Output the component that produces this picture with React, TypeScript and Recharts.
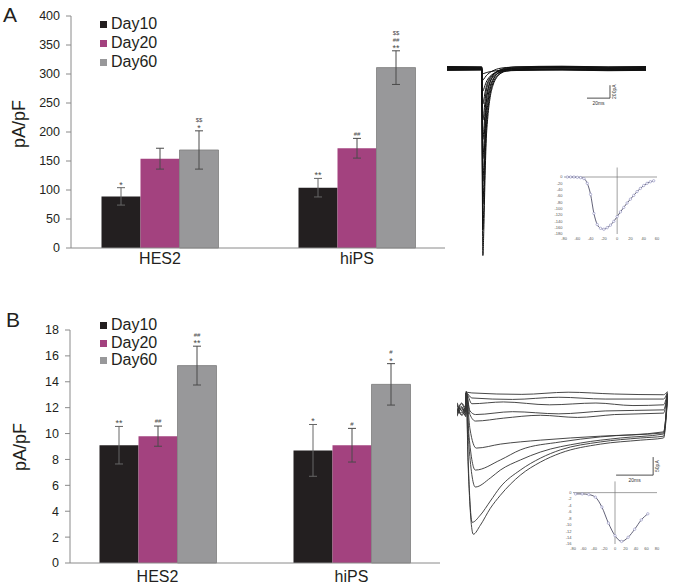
import React from 'react';
import {
  BarChart, Bar, XAxis, YAxis, ErrorBar, LabelList, Legend,
  LineChart, Line, ReferenceLine,
} from 'recharts';

const groups = ['HES2', 'hiPS'];
const colors = { Day10: '#231F20', Day20: '#A3427F', Day60: '#98989A' };
const inkColor = '#231F20';

// panel A: Na current density (pA/pF)
const aDay10 = [89, 104];
const aDay20 = [154, 172];
const aDay60 = [169, 311];
const aErr10 = [15, 16];
const aErr20 = [18, 17];
const aErr60 = [33, 29];
const aSig10 = ['*', '**'];
const aSig20 = ['', '##'];
const aSig60 = ['*|$$', '**|##|$$'];
const aTicks = [0, 50, 100, 150, 200, 250, 300, 350, 400];

// panel B: Ca current density (pA/pF)
const bDay10 = [9.1, 8.7];
const bDay20 = [9.8, 9.1];
const bDay60 = [15.25, 13.8];
const bErr10 = [1.45, 2.0];
const bErr20 = [0.78, 1.3];
const bErr60 = [1.5, 1.6];
const bSig10 = ['**', '*'];
const bSig20 = ['##', '#'];
const bSig60 = ['**|##', '*|#'];
const bTicks = [0, 2, 4, 6, 8, 10, 12, 14, 16, 18];

// panel A raw traces: [ms, pA]
const tA1 = [[0, 20], [30.2, 15], [30.6, -1450], [31.2, -2900], [32, -2500], [33, -1740], [34, -1160], [35.5, -750], [37.5, -450], [40, -260], [43, -145], [47, -72], [52, -20], [60, 5], [100, 25], [140, 10], [173, 20]];
const tA2 = [[0, -20], [30.2, -15], [30.6, -1250], [31.2, -2500], [32, -2150], [33, -1500], [34, -1000], [35.5, -650], [37.5, -390], [40, -225], [43, -125], [47, -70], [52, -40], [60, -25], [100, -15], [140, -25], [173, -20]];
const tA3 = [[0, 10], [30.2, 5], [30.6, -1050], [31.2, -2100], [32, -1800], [33, -1260], [34, -840], [35.5, -545], [37.5, -325], [40, -185], [43, -95], [47, -45], [52, -10], [60, 5], [100, 15], [140, 0], [173, 10]];
const tA4 = [[0, -10], [30.2, -10], [30.6, -875], [31.2, -1750], [32, -1500], [33, -1050], [34, -700], [35.5, -455], [37.5, -275], [40, -165], [43, -95], [47, -55], [52, -25], [60, -15], [100, -5], [140, -15], [173, -10]];
const tA5 = [[0, 30], [30.2, 25], [30.6, -700], [31.2, -1400], [32, -1200], [33, -840], [34, -560], [35.5, -360], [37.5, -210], [40, -115], [43, -55], [47, -15], [52, 10], [60, 25], [100, 35], [140, 25], [173, 30]];
const tA6 = [[0, -30], [30.2, -25], [30.6, -550], [31.2, -1100], [32, -950], [33, -680], [34, -470], [35.5, -320], [37.5, -205], [40, -130], [43, -85], [47, -55], [52, -40], [60, -32], [100, -25], [140, -35], [173, -30]];
const tA7 = [[0, 0], [30.2, 0], [30.6, -400], [31.2, -800], [32, -700], [33, -510], [34, -360], [35.5, -245], [37.5, -160], [40, -100], [43, -60], [47, -30], [52, -12], [60, -4], [100, 5], [140, -5], [173, 0]];
const tA8 = [[0, 15], [30.2, 10], [30.6, -270], [31.2, -550], [32, -490], [33, -380], [34, -290], [35.5, -205], [37.5, -140], [40, -90], [43, -52], [47, -22], [52, 0], [60, 10], [100, 20], [140, 10], [173, 15]];
const tA9 = [[0, -15], [30.2, -15], [30.6, -180], [31.2, -350], [32, -320], [33, -265], [34, -215], [35.5, -165], [37.5, -120], [40, -85], [43, -58], [47, -38], [52, -25], [60, -18], [100, -10], [140, -20], [173, -15]];
const tA10 = [[0, 25], [30.2, 20], [30.6, -80], [31.2, -180], [32, -165], [33, -140], [34, -115], [35.5, -88], [37.5, -60], [40, -35], [43, -12], [47, 5], [52, 15], [60, 22], [100, 30], [140, 20], [173, 25]];
const tA11 = [[0, -25], [30.2, -20], [30.6, -45], [31.2, -80], [32, -78], [33, -72], [34, -66], [35.5, -58], [37.5, -50], [40, -42], [43, -35], [47, -30], [52, -27], [60, -25], [100, -20], [140, -30], [173, -25]];
const tracesA = [tA1, tA2, tA3, tA4, tA5, tA6, tA7, tA8, tA9, tA10, tA11];

// panel B raw traces: [ms, pA]
const tB1 = [[-5, -40], [-2.5, -60], [-0.2, -35], [0, 5], [1, -200], [3.8, -392], [7.6, -367], [13, -320], [18.4, -284], [29.2, -228], [40, -192], [50.8, -167], [72.4, -142], [94, -131], [106.5, -125], [108.6, -20]];
const tB2 = [[-5, -55], [-2.5, -30], [-0.2, -50], [0, 0], [1, -180], [3.2, -359], [7.6, -339], [13, -300], [18.4, -261], [29.2, -214], [40, -181], [50.8, -158], [72.4, -136], [94, -125], [106.5, -120], [108.6, -15]];
const tB3 = [[-5, -30], [-2.5, -62], [-0.2, -45], [0, 0], [1.5, -150], [4.9, -261], [13, -236], [18.4, -214], [29.2, -186], [40, -164], [61.6, -139], [83.2, -125], [106.5, -114], [108.6, -10]];
const tB4 = [[-5, -65], [-2.5, -40], [-0.2, -58], [0, 0], [1.5, -120], [4.9, -214], [18.4, -186], [29.2, -158], [50.8, -136], [72.4, -122], [106.5, -108], [108.6, -8]];
const tB5 = [[-5, -45], [-2.5, -55], [-0.2, -30], [0, 0], [2, -100], [5.4, -153], [18.4, -142], [40, -131], [72.4, -120], [106.5, -111], [108.6, -5]];
const tB6 = [[-5, -35], [-2.5, -50], [-0.2, -62], [0, 0], [2, -60], [5, -78], [20, -70], [40, -62], [60, -68], [80, -60], [106.5, -56], [108.6, -3]];
const tB7 = [[-5, -58], [-2.5, -28], [-0.2, -42], [0, 0], [2, -50], [5, -60], [25, -52], [50, -58], [75, -50], [106.5, -47], [108.6, -2]];
const tB8 = [[-5, -50], [-2.5, -38], [-0.2, -66], [0, 0], [3, -30], [20, -25], [45, -33], [70, -28], [90, -35], [106.5, -33], [108.6, 0]];
const tB9 = [[-5, -27], [-2.5, -48], [-0.2, -40], [0, 0], [3, -14], [25, -18], [50, -12], [75, -17], [106.5, -17], [108.6, 2]];
const tB10 = [[-5, -62], [-2.5, -44], [-0.2, -52], [0, 2], [3, 0], [30, -4], [55, 2], [80, -3], [106.5, -5], [108.6, 4]];
const tracesB = [tB1, tB2, tB3, tB4, tB5, tB6, tB7, tB8, tB9, tB10];

// I-V insets
const ivAmv = [-75, -70, -65, -60, -55, -50, -45, -40, -35, -30, -25, -20, -15, -10, -5, 0, 5, 10, 15, 20, 25, 30, 35, 40, 45, 50, 55];
const ivAcur = [0, 0, 0, -1, -2, -5, -20, -55, -115, -150, -162, -165, -160, -152, -140, -125, -110, -96, -82, -70, -58, -46, -36, -27, -20, -15, -12];
const ivAxTicks = [-80, -60, -40, -20, 0, 20, 40, 60];
const ivAyTicks = [0, -20, -40, -60, -80, -100, -120, -140, -160, -180];
const ivBmv = [-75, -62.5, -50, -37.5, -25, -12.5, 0, 12.5, 25, 37.5, 50, 62.5];
const ivBcur = [-0.4, -0.4, -0.6, -1.4, -4.5, -9.5, -13.4, -15.2, -13.9, -11.4, -8.5, -6.6];
const ivBxTicks = [-80, -60, -40, -20, 0, 20, 40, 60, 80];
const ivByTicks = [0, -2, -4, -6, -8, -10, -12, -14, -16];

const makeRows = (d10, d20, d60, e10, e20, e60, s10, s20, s60) =>
  groups.map((g, i) => ({
    group: g, Day10: d10[i], Day20: d20[i], Day60: d60[i],
    e10: e10[i], e20: e20[i], e60: e60[i], s10: s10[i], s20: s20[i], s60: s60[i],
  }));

const rowsA = makeRows(aDay10, aDay20, aDay60, aErr10, aErr20, aErr60, aSig10, aSig20, aSig60);
const rowsB = makeRows(bDay10, bDay20, bDay60, bErr10, bErr20, bErr60, bSig10, bSig20, bSig60);

// significance marks stacked above the error bar
const sigContent = (rows, valKey, errKey) => (props: any) => {
  const { index, value } = props;
  if (!value) return null;
  const vb = props.viewBox && props.viewBox.width != null ? props.viewBox : props;
  const row = rows[index];
  const cx = vb.x + vb.width / 2;
  const perUnit = Math.abs(vb.height) / row[valKey];
  const errTop = Math.min(vb.y, vb.y + vb.height) - row[errKey] * perUnit;
  const lines = String(value).split('|');
  return (
    <g>
      {lines.map((s, k) => {
        const star = s.includes('*');
        const center = errTop - 5 - 6.5 * k;
        return (
          <text key={k} x={cx} y={center + (star ? 5 : 2.2)} textAnchor="middle"
            fontSize={star ? 9 : 6} fill="#4a4a4a">{s}</text>
        );
      })}
    </g>
  );
};

const YTitle = ({ viewBox, shiftX, shiftY }: any) => {
  const x = viewBox.x + shiftX;
  const y = viewBox.y + viewBox.height / 2 + shiftY;
  return (
    <text x={x} y={y} transform={`rotate(-90 ${x} ${y})`} textAnchor="middle"
      dominantBaseline="central" fontSize={18} fill={inkColor}>pA/pF</text>
  );
};

const BarPanel = ({ rows, ticks, top, height, margin, pad, xLabelGap, legendTop, legendLine, titleShift }: any) => (
  <div style={{ position: 'absolute', left: 0, top }}>
    <BarChart width={470} height={height} data={rows} margin={margin} barGap={0}>
      <XAxis dataKey="group" height={margin.xh} padding={pad} tickLine={false} tickSize={0}
        tickMargin={xLabelGap} axisLine={{ stroke: '#8a8a8a' }}
        tick={{ fontSize: 16, fill: inkColor }} />
      <YAxis type="number" width={50} domain={[ticks[0], ticks[ticks.length - 1]]} ticks={ticks}
        interval={0} tickSize={5} tickMargin={6} axisLine={{ stroke: '#8a8a8a' }}
        tickLine={{ stroke: '#8a8a8a' }} tick={{ fontSize: 12.5, fill: inkColor }}
        label={<YTitle shiftX={titleShift[0]} shiftY={titleShift[1]} />} />
      <Legend layout="vertical" align="center" verticalAlign="middle" iconType="square" iconSize={7}
        wrapperStyle={{ left: 100, top: legendTop, width: 'auto', fontSize: 16, lineHeight: `${legendLine}px` }}
        formatter={(v) => <span style={{ color: inkColor }}>{v}</span>} />
      <Bar dataKey="Day10" name="Day10" fill={colors.Day10} barSize={39} isAnimationActive={false}>
        <ErrorBar dataKey="e10" width={4} stroke="#666" strokeWidth={1} />
        <LabelList dataKey="s10" content={sigContent(rows, 'Day10', 'e10')} />
      </Bar>
      <Bar dataKey="Day20" name="Day20" fill={colors.Day20} barSize={39} isAnimationActive={false}>
        <ErrorBar dataKey="e20" width={4} stroke="#4a4a4a" strokeWidth={1} />
        <LabelList dataKey="s20" content={sigContent(rows, 'Day20', 'e20')} />
      </Bar>
      <Bar dataKey="Day60" name="Day60" fill={colors.Day60} stroke="#7d7d7d" strokeWidth={0.8}
        barSize={39} isAnimationActive={false}>
        <ErrorBar dataKey="e60" width={4} stroke="#4a4a4a" strokeWidth={1} />
        <LabelList dataKey="s60" content={sigContent(rows, 'Day60', 'e60')} />
      </Bar>
    </BarChart>
  </div>
);

const toPts = (tr) => tr.map(([t, v]) => ({ t, v }));

const VText = ({ viewBox, text, dx }: any) => {
  const x = viewBox.x + dx;
  const y = viewBox.y + viewBox.height / 2;
  return (
    <text x={x} y={y} transform={`rotate(-90 ${x} ${y})`} textAnchor="middle"
      dominantBaseline="central" fontSize={5} fill="#333">{text}</text>
  );
};

const TracePanel = ({ traces, left, top, width, height, xDomain, yDomain, color, sw, hBar, vBar, hText, vText }: any) => (
  <div style={{ position: 'absolute', left, top }}>
    <LineChart width={width} height={height} margin={{ top: 0, right: 0, left: 0, bottom: 0 }}>
      <XAxis type="number" dataKey="t" domain={xDomain} hide allowDataOverflow />
      <YAxis type="number" domain={yDomain} hide allowDataOverflow />
      {traces.map((tr, i) => (
        <Line key={i} data={toPts(tr)} dataKey="v" type="monotone" stroke={color}
          strokeWidth={sw} dot={false} isAnimationActive={false} />
      ))}
      <ReferenceLine segment={hBar} stroke="#222" strokeWidth={0.8}
        label={{ value: hText, position: 'bottom', offset: 3, fontSize: 5, fill: '#333' }} />
      <ReferenceLine segment={vBar} stroke="#222" strokeWidth={0.8}
        label={<VText text={vText} dx={4} />} />
    </LineChart>
  </div>
);

const IVInset = ({ mv, cur, xTicks, yTicks, yTop, left, top, width, height, marginTop }: any) => {
  const pts = mv.map((m, i) => ({ mv: m, i: cur[i] }));
  return (
    <div style={{ position: 'absolute', left, top }}>
      <LineChart width={width} height={height} data={pts}
        margin={{ top: marginTop, right: 3, left: 6, bottom: 0 }}>
        <XAxis type="number" dataKey="mv" domain={[xTicks[0], xTicks[xTicks.length - 1]]}
          ticks={xTicks} interval={0} height={10} axisLine={false} tickLine={false} tickSize={0}
          tickMargin={3.5} tick={{ fontSize: 4, fill: '#555' }} />
        <YAxis type="number" domain={[yTicks[yTicks.length - 1], yTop]} ticks={yTicks} interval={0}
          width={10} axisLine={false} tickLine={false} tickSize={0} tickMargin={1.5}
          tick={{ fontSize: 4, fill: '#555' }} />
        <ReferenceLine y={0} stroke="#777" strokeWidth={0.7} />
        <ReferenceLine x={0} stroke="#777" strokeWidth={0.7} />
        <Line dataKey="i" type="monotone" stroke="#3a3a55" strokeWidth={0.8}
          dot={{ r: 1.2, fill: '#fff', stroke: '#8b8bbd', strokeWidth: 0.6 }} isAnimationActive={false} />
      </LineChart>
    </div>
  );
};

export default function App() {
  return (
    <div style={{
      position: 'absolute', left: 0, top: 0, width: 673, height: 584, overflow: 'hidden',
      background: '#fff', fontFamily: '"Liberation Sans", Arial, sans-serif',
    }}>
      <div style={{ position: 'absolute', left: 3, top: 3, fontSize: 21, color: inkColor }}>A</div>
      <div style={{ position: 'absolute', left: 6, top: 308, fontSize: 21, color: inkColor }}>B</div>

      <BarPanel rows={rowsA} ticks={aTicks} top={0} height={275}
        margin={{ top: 16, right: 25, left: 21, bottom: 5, xh: 22 }}
        pad={{ left: -9.5, right: -10.5 }} xLabelGap={5} legendTop={14} legendLine={19}
        titleShift={[-2, -8]} />
      <BarPanel rows={rowsB} ticks={bTicks} top={300} height={284}
        margin={{ top: 30, right: 30, left: 20, bottom: 0, xh: 21 }}
        pad={{ left: -9.5, right: -8.5 }} xLabelGap={8} legendTop={16} legendLine={17.5}
        titleShift={[0, 0.5]} />

      <TracePanel traces={tracesA} left={447} top={62} width={199} height={200}
        xDomain={[0, 173]} yDomain={[-3000, 100]} color="#111" sw={1}
        hBar={[{ x: 121.7, y: -460 }, { x: 141.7, y: -460 }]}
        vBar={[{ x: 141.7, y: -260 }, { x: 141.7, y: -460 }]} hText="20ms" vText="200pA" />
      <IVInset mv={ivAmv} cur={ivAcur} xTicks={ivAxTicks} yTicks={ivAyTicks} yTop={30}
        left={548} top={163} width={112} height={81} marginTop={4.5} />

      <TracePanel traces={tracesB} left={457} top={385} width={213} height={155}
        xDomain={[-5, 110]} yDomain={[-408, 22]} color="#333" sw={0.9}
        hBar={[{ x: 80.9, y: -228 }, { x: 100.9, y: -228 }]}
        vBar={[{ x: 100.9, y: -178 }, { x: 100.9, y: -228 }]} hText="20ms" vText="50pA" />
      <IVInset mv={ivBmv} cur={ivBcur} xTicks={ivBxTicks} yTicks={ivByTicks} yTop={3.5}
        left={557} top={477} width={103} height={77} marginTop={4.4} />
    </div>
  );
}
